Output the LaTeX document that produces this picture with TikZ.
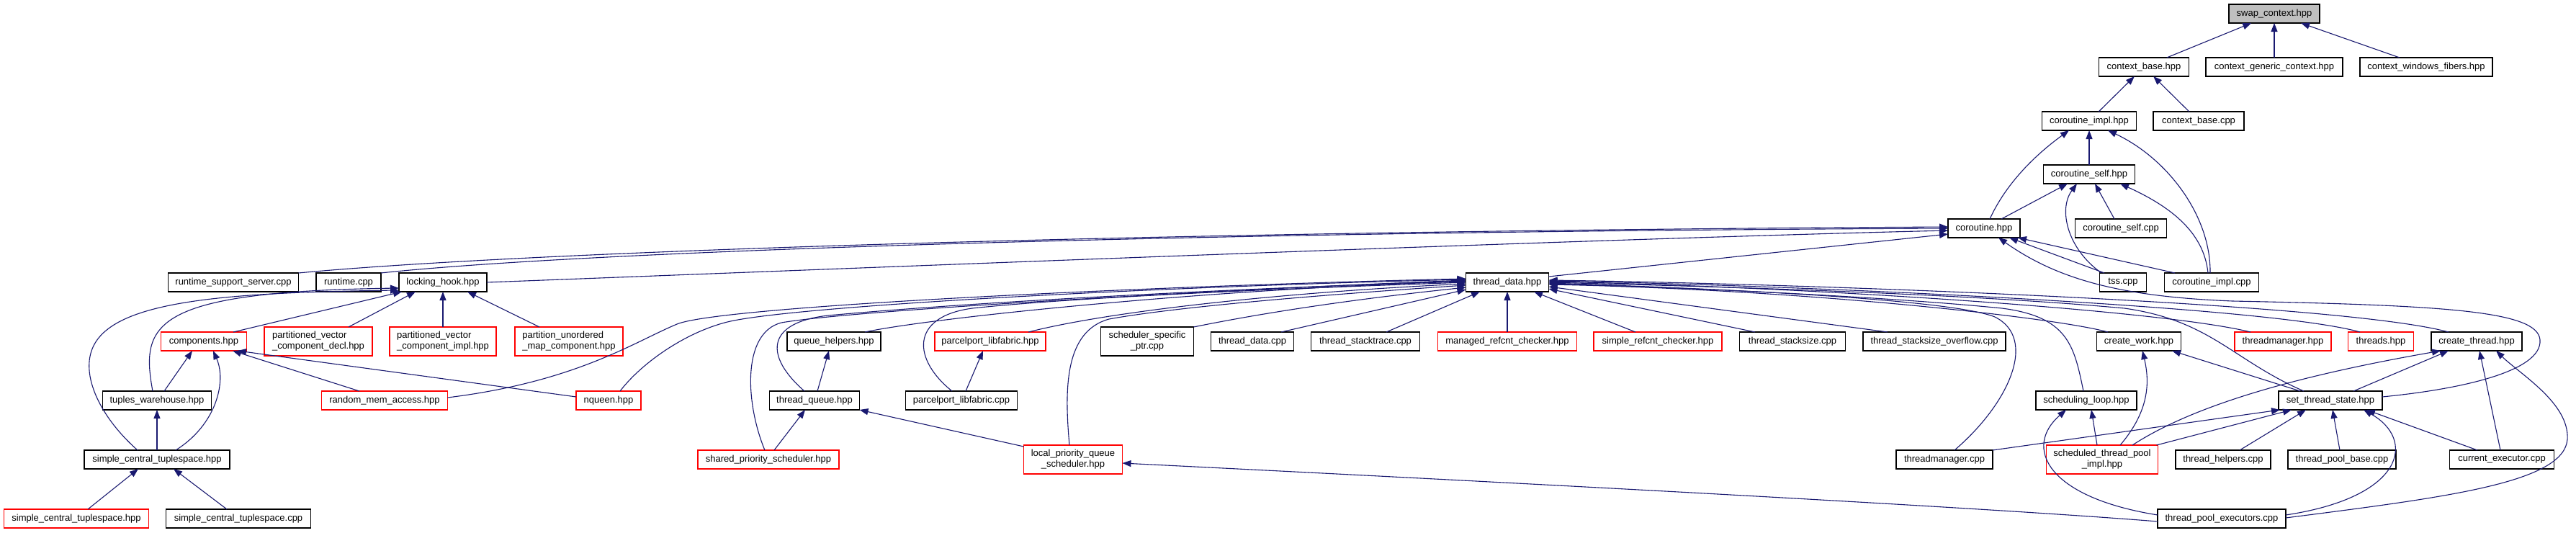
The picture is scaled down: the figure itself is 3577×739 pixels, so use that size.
\documentclass[tikz,border=0pt]{standalone}
\usepackage{fontspec}
\setmainfont{Liberation Sans}
\usetikzlibrary{arrows.meta}
\definecolor{edgeblue}{HTML}{191970}
\tikzset{
  bk/.style={draw=black, line width=1.3pt, fill=white, minimum height=26pt, inner sep=2pt, outer sep=0pt, font=\fontsize{13pt}{15pt}\selectfont},
  rd/.style={bk, draw=red},
  two/.style={minimum height=40pt},
  edge/.style={draw=edgeblue, line width=1.1pt, -{Triangle[length=12pt,width=9pt]}}
}
\begin{document}
\begin{tikzpicture}[x=1pt,y=-1pt]
\fill[white] (0,0) rectangle (3577,739);
\useasboundingbox (0,0) rectangle (3577,739);
% row 0
\node[bk, minimum width=126pt, fill=black!25] (swap) at (3158,19) {swap\_context.hpp};
% row 1
\node[bk, minimum width=125pt] (cbh) at (2977,93) {context\_base.hpp};
\node[bk, minimum width=190pt] (cgc) at (3158,93) {context\_generic\_context.hpp};
\node[bk, minimum width=184pt] (cwf) at (3369,93) {context\_windows\_fibers.hpp};
% row 2
\node[bk, minimum width=131pt] (cih) at (2901,168) {coroutine\_impl.hpp};
\node[bk, minimum width=126pt] (cbc) at (3053,168) {context\_base.cpp};
% row 3
\node[bk, minimum width=127pt] (csh) at (2901,242) {coroutine\_self.hpp};
% row 4
\node[bk, minimum width=100pt] (coh) at (2755,317) {coroutine.hpp};
\node[bk, minimum width=127pt] (csc) at (2945,317) {coroutine\_self.cpp};
% row 5
\node[bk, minimum width=181pt] (rss) at (324,392) {runtime\_support\_server.cpp};
\node[bk, minimum width=90pt] (rt) at (484,392) {runtime.cpp};
\node[bk, minimum width=122pt] (lh) at (615,392) {locking\_hook.hpp};
\node[bk, minimum width=115pt] (thd) at (2093,392) {thread\_data.hpp};
\node[bk, minimum width=65pt] (tss) at (2948,392) {tss.cpp};
\node[bk, minimum width=131pt] (cic) at (3071,392) {coroutine\_impl.cpp};
% row 6
\node[rd, minimum width=119pt] (comp) at (283,474) {components.hpp};
\node[rd, two, minimum width=150pt, align=left] (pvd) at (442,474) {partitioned\_vector\\\_component\_decl.hpp};
\node[rd, two, minimum width=148pt, align=left] (pvi) at (615,474) {partitioned\_vector\\\_component\_impl.hpp};
\node[rd, two, minimum width=150pt, align=left] (pum) at (790,474) {partition\_unordered\\\_map\_component.hpp};
\node[bk, minimum width=130pt] (qh) at (1158,474) {queue\_helpers.hpp};
\node[rd, minimum width=154pt] (plh) at (1375,474) {parcelport\_libfabric.hpp};
\node[bk, two, minimum width=129pt, align=center] (ssp) at (1593,474) {scheduler\_specific\\\_ptr.cpp};
\node[bk, minimum width=115pt] (tdc) at (1739,474) {thread\_data.cpp};
\node[bk, minimum width=151pt] (tst) at (1896,474) {thread\_stacktrace.cpp};
\node[rd, minimum width=193pt] (mrc) at (2093,474) {managed\_refcnt\_checker.hpp};
\node[rd, minimum width=178pt] (src) at (2302,474) {simple\_refcnt\_checker.hpp};
\node[bk, minimum width=147pt] (tsc) at (2489,474) {thread\_stacksize.cpp};
\node[bk, minimum width=198pt] (tso) at (2686,474) {thread\_stacksize\_overflow.cpp};
\node[bk, minimum width=117pt] (cw) at (2970,474) {create\_work.hpp};
\node[rd, minimum width=134pt] (tmh) at (3170,474) {threadmanager.hpp};
\node[rd, minimum width=91pt] (thh) at (3306,474) {threads.hpp};
\node[bk, minimum width=126pt] (cth) at (3439,474) {create\_thread.hpp};
% row 7
\node[bk, minimum width=151pt] (tw) at (218,556) {tuples\_warehouse.hpp};
\node[rd, minimum width=175pt] (rma) at (534,556) {random\_mem\_access.hpp};
\node[rd, minimum width=90pt] (nq) at (845,556) {nqueen.hpp};
\node[bk, minimum width=125pt] (tq) at (1131,556) {thread\_queue.hpp};
\node[bk, minimum width=155pt] (plc) at (1335,556) {parcelport\_libfabric.cpp};
\node[bk, minimum width=140pt] (sl) at (2897,556) {scheduling\_loop.hpp};
\node[bk, minimum width=144pt] (sts) at (3236,556) {set\_thread\_state.hpp};
% row 8
\node[bk, minimum width=202pt] (sct) at (218,638) {simple\_central\_tuplespace.hpp};
\node[rd, minimum width=196pt] (sps) at (1067,638) {shared\_priority\_scheduler.hpp};
\node[rd, two, minimum width=137pt, align=center] (lpq) at (1490,638) {local\_priority\_queue\\\_scheduler.hpp};
\node[bk, minimum width=134pt] (tmc) at (2700,638) {threadmanager.cpp};
\node[rd, two, minimum width=155pt, align=center] (stp) at (2919,638) {scheduled\_thread\_pool\\\_impl.hpp};
\node[bk, minimum width=132pt] (thc) at (3087,638) {thread\_helpers.cpp};
\node[bk, minimum width=150pt] (tpb) at (3252,638) {thread\_pool\_base.cpp};
\node[bk, minimum width=145pt] (ce) at (3474,638) {current\_executor.cpp};
% row 9
\node[rd, minimum width=201pt] (sctr) at (106,720) {simple\_central\_tuplespace.hpp};
\node[bk, minimum width=201pt] (sctc) at (331,720) {simple\_central\_tuplespace.cpp};
\node[bk, minimum width=178pt] (tpe) at (3085,720) {thread\_pool\_executors.cpp};

% ---- edges: top part
\draw[edge] (cbh) -- (swap);
\draw[edge] (cgc) -- (swap);
\draw[edge] (cwf) -- (swap);
\draw[edge] (cih) -- (cbh);
\draw[edge] (cbc) -- (cbh);
\draw[edge] (csh) -- (cih);
\draw[edge] ([xshift=8pt]coh.north) .. controls (2790,245) and (2840,205) .. ([xshift=-28pt]cih.south);
\draw[edge] ([xshift=-2pt]cic.north) .. controls (3070,300) and (3010,220) .. ([xshift=26pt]cih.south);
\draw[edge] ([xshift=24pt]coh.north) -- ([xshift=-30pt]csh.south);
\draw[edge] ([xshift=-9pt]csc.north) -- ([xshift=8pt]csh.south);
\draw[edge] ([xshift=-30pt]tss.north) .. controls (2870,345) and (2858,290) .. ([xshift=-17pt]csh.south);
\draw[edge] ([xshift=-5pt]cic.north) .. controls (3060,320) and (3010,285) .. ([xshift=43pt]csh.south);
\draw[edge] ([xshift=-26pt]tss.north) -- ([xshift=35pt]coh.south);
\draw[edge] ([xshift=-51pt]cic.north) -- ([xshift=47pt]coh.south);
\draw[edge] ([yshift=5pt]sts.east) .. controls (3420,540) and (3530,515) .. (3527,472) .. controls (3524,432) and (3400,424) .. (3100,418) .. controls (2950,412) and (2860,390) .. ([xshift=20pt]coh.south);
\draw[edge] (rss.north east) .. controls (700,352) and (1500,322) .. ([yshift=2pt]coh.west);
\draw[edge] (rt.north east) .. controls (800,350) and (1600,322) .. (coh.west);
\draw[edge] (lh.east) .. controls (1200,372) and (2200,332) .. ([yshift=-3pt]coh.west);
\draw[edge] ([yshift=8pt]thd.east) -- ([yshift=-8pt]coh.west);

% ---- locking_hook / components
\draw[edge] ([xshift=41pt]comp.north) -- ([xshift=4pt]lh.south west);
\draw[edge] ([xshift=42pt]pvd.north) -- ([xshift=-38pt]lh.south);
\draw[edge] (pvi) -- (lh);
\draw[edge] ([xshift=-41pt]pum.north) -- ([xshift=34pt]lh.south);
\draw[edge] ([xshift=-6pt]tw.north) .. controls (195,450) and (210,405) .. ([yshift=-8pt]lh.west);
\draw[edge] ([xshift=-27pt]sct.north) .. controls (140,580) and (110,520) .. (130,480) .. controls (160,420) and (300,406) .. ([yshift=-11pt]lh.west);
\draw[edge] ([xshift=10pt]tw.north) -- ([xshift=-16pt]comp.south);
\draw[edge] ([xshift=26pt]sct.north) .. controls (300,590) and (315,530) .. ([xshift=13pt]comp.south);
\draw[edge] (sct) -- (tw);
\draw[edge] ([xshift=-35pt]rma.north) -- ([xshift=40pt]comp.south);
\draw[edge] ([yshift=5pt]nq.west) -- ([xshift=47pt]comp.south);
\draw[edge] ([xshift=16pt]sctr.north) -- ([xshift=-26pt]sct.south);
\draw[edge] ([xshift=-16pt]sctc.north) -- ([xshift=23pt]sct.south);

% ---- thread_data, left side
\draw[edge] ([yshift=4pt]rma.east) .. controls (800,530) and (880,475) .. (940,450) .. controls (1000,425) and (1600,397) .. ([yshift=5pt]thd.west);
\draw[edge] ([xshift=16pt]nq.north) .. controls (890,505) and (950,462) .. (1010,447) .. controls (1100,425) and (1600,398) .. ([yshift=4pt]thd.west);
\draw[edge] ([xshift=-5pt]sps.north) .. controls (1035,560) and (1030,462) .. (1085,448) .. controls (1200,428) and (1800,398) .. ([yshift=3pt]thd.west);
\draw[edge] ([xshift=-14pt]tq.north) .. controls (1062,495) and (1062,448) .. (1150,438) .. controls (1400,415) and (1800,398) .. ([yshift=2pt]thd.west);
\draw[edge] ([xshift=43pt]qh.north) .. controls (1300,440) and (1700,400) .. ([yshift=1pt]thd.west);
\draw[edge] ([xshift=-13pt]plc.north) .. controls (1268,500) and (1262,440) .. (1350,428) .. controls (1500,412) and (1800,400) .. (thd.west);
\draw[edge] ([xshift=53pt]plh.north) .. controls (1550,430) and (1800,405) .. ([yshift=-2pt]thd.west);
\draw[edge] ([xshift=-5pt]lpq.north) .. controls (1478,540) and (1478,460) .. (1540,443) .. controls (1650,423) and (1900,405) .. ([yshift=-4pt]thd.west);
\draw[edge] (ssp.north east) .. controls (1800,425) and (1950,408) .. ([yshift=-7pt]thd.west);
\draw[edge] ([xshift=40pt]tdc.north) -- ([yshift=-10pt]thd.west);
\draw[edge] ([xshift=29pt]tst.north) -- ([xshift=-38pt]thd.south);
\draw[edge] (mrc) -- (thd);
\draw[edge] ([xshift=-31pt]src.north) -- ([xshift=37pt]thd.south);
\draw[edge] ([xshift=-52pt]tsc.north) -- ([yshift=-9pt]thd.east);
\draw[edge] ([xshift=-65pt]tso.north) -- ([yshift=-6pt]thd.east);
% ---- thread_data, right side
\draw[edge] ([xshift=-43pt]cw.north) .. controls (2850,440) and (2500,402) .. ([yshift=-3pt]thd.east);
\draw[edge] ([xshift=-4pt]sl.north) .. controls (2880,480) and (2872,440) .. (2780,428) .. controls (2600,410) and (2300,398) .. ([yshift=-2pt]thd.east);
\draw[edge] ([xshift=14pt]tmc.north) .. controls (2790,560) and (2830,470) .. (2770,440) .. controls (2700,412) and (2300,398) .. ([yshift=-1pt]thd.east);
\draw[edge] ([xshift=-37pt]sts.north) .. controls (3100,500) and (3070,445) .. (2950,428) .. controls (2700,405) and (2300,396) .. (thd.east);
\draw[edge] ([xshift=-45pt]tmh.north) .. controls (3000,430) and (2500,398) .. ([yshift=1pt]thd.east);
\draw[edge] ([xshift=-29pt]thh.north) .. controls (3150,425) and (2500,396) .. ([yshift=2pt]thd.east);
\draw[edge] ([xshift=-39pt]cth.north) .. controls (3250,420) and (2500,394) .. ([yshift=3pt]thd.east);

% ---- lower right
\draw[edge] ([xshift=-7pt]stp.north) -- ([xshift=7pt]sl.south);
\draw[edge] ([yshift=5pt]tpe.west) .. controls (2840,690) and (2810,620) .. ([xshift=-28pt]sl.south);
\draw[edge] ([xshift=25pt]stp.north) .. controls (2985,570) and (2985,530) .. ([xshift=5pt]cw.south);
\draw[edge] ([xshift=-42pt]sts.north) -- ([xshift=46pt]cw.south);
\draw[edge] ([xshift=42pt]stp.north) .. controls (3050,560) and (3200,520) .. ([xshift=-50pt]cth.south);
\draw[edge] ([xshift=-2pt]stp.north east) -- ([xshift=-54pt]sts.south);
\draw[edge] (tmc.north east) -- ([xshift=-70pt]sts.south);
\draw[edge] ([xshift=23pt]thc.north) -- ([xshift=-34pt]sts.south);
\draw[edge] ([xshift=-3pt]tpb.north) -- ([xshift=3pt]sts.south);
\draw[edge] ([yshift=5pt]tpe.east) .. controls (3340,690) and (3355,610) .. ([xshift=46pt]sts.south);
\draw[edge] ([xshift=-34pt]ce.north) -- ([xshift=50pt]sts.south);
\draw[edge] ([xshift=32pt]sts.north) -- ([xshift=-39pt]cth.south);
\draw[edge] ([xshift=-2pt]ce.north) -- ([xshift=4pt]cth.south);
\draw[edge] ([yshift=1pt]tpe.east) .. controls (3400,690) and (3560,670) .. (3565,610) .. controls (3568,560) and (3500,520) .. ([xshift=27pt]cth.south);
\draw[edge] ([yshift=-4pt]tpe.west) .. controls (2700,700) and (1800,655) .. ([yshift=-5pt]lpq.east);

% ---- lower middle
\draw[edge] ([xshift=8pt]sps.north) -- ([xshift=-13pt]tq.south);
\draw[edge] ([yshift=18pt]lpq.west) -- (tq.south east);
\draw[edge] ([xshift=4pt]tq.north) -- ([xshift=-7pt]qh.south);
\draw[edge] ([xshift=6pt]plc.north) -- ([xshift=-10pt]plh.south);
\end{tikzpicture}
\end{document}
